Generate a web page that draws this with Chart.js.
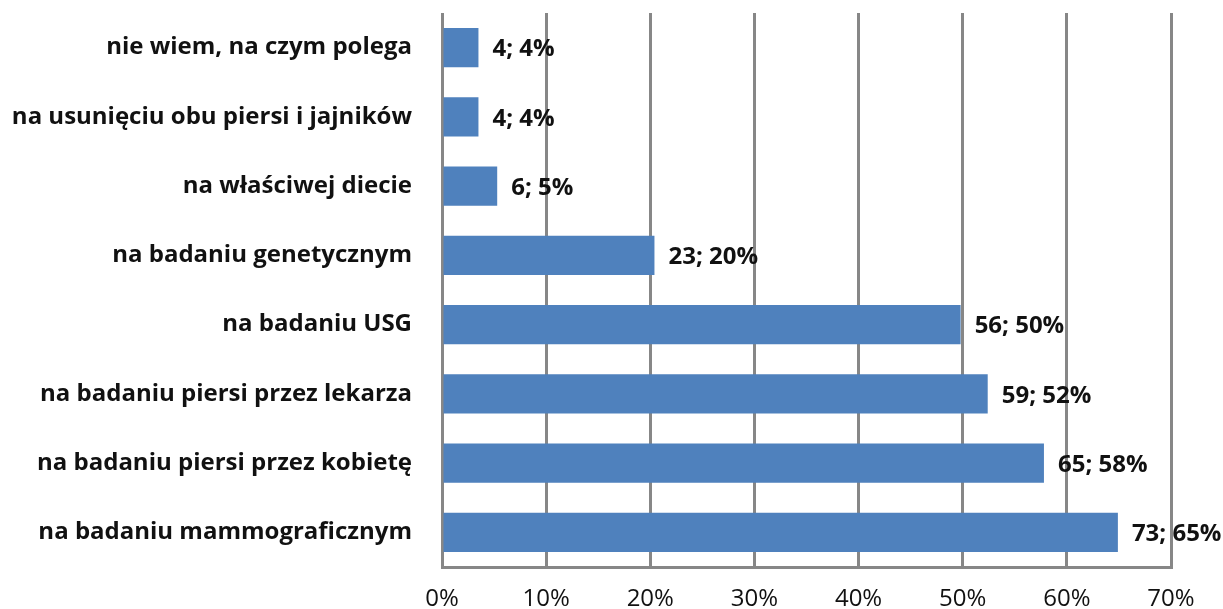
<!DOCTYPE html>
<html><head><meta charset="utf-8">
<script src="https://cdn.jsdelivr.net/npm/chart.js@4"></script>
<style>html,body{margin:0;padding:0;background:#fff}#wrap{width:1223px;height:609px}</style>
</head><body><div id="wrap"><canvas id="c" width="1223" height="609"></canvas></div>
<script>
const categories = [
  'nie wiem, na czym polega',
  'na usunięciu obu piersi i jajników',
  'na właściwej diecie',
  'na badaniu genetycznym',
  'na badaniu USG',
  'na badaniu piersi przez lekarza',
  'na badaniu piersi przez kobietę',
  'na badaniu mammograficznym'
];
const percentValues = [3.5, 3.5, 5.3, 20.4, 49.8, 52.4, 57.8, 64.9];
const counts = [4, 4, 6, 23, 56, 59, 65, 73];
const percentLabels = ['4%', '4%', '5%', '20%', '50%', '52%', '58%', '65%'];
const xTickValues = [0, 10, 20, 30, 40, 50, 60, 70];

const FONT = "'Open Sans', sans-serif";
const GRID = '#878787';

const labelPlugin = {
  id: 'barLabels',
  afterDatasetsDraw(chart) {
    const ctx = chart.ctx;
    const meta = chart.getDatasetMeta(0);
    ctx.save();
    ctx.font = "bold 24px " + FONT;
    ctx.fillStyle = '#111111';
    ctx.textAlign = 'left';
    ctx.textBaseline = 'middle';
    meta.data.forEach((bar, i) => {
      ctx.fillText(counts[i] + '; ' + percentLabels[i], bar.x + 14, bar.y + 2);
    });
    ctx.restore();
  }
};

new Chart(document.getElementById('c'), {
  type: 'bar',
  data: {
    labels: categories,
    datasets: [{
      data: percentValues,
      backgroundColor: '#4f81bd',
      borderWidth: 0,
      barPercentage: 0.565,
      categoryPercentage: 1.0
    }]
  },
  options: {
    indexAxis: 'y',
    responsive: false,
    animation: false,
    devicePixelRatio: 1,
    layout: { padding: { top: 13, right: 52, left: 0, bottom: 0 } },
    plugins: { legend: { display: false }, tooltip: { enabled: false } },
    scales: {
      x: {
        min: 0, max: 70,
        afterBuildTicks(scale) { scale.ticks = xTickValues.map(v => ({ value: v })); },
        afterFit(scale) { scale.height = 42; scale.paddingLeft = 0; scale.paddingRight = 0; },
        ticks: {
          padding: 18,
          color: '#111111',
          font: { family: FONT, size: 24 },
          callback: v => v + '%'
        },
        grid: { color: GRID, lineWidth: 3, drawTicks: false },
        border: { display: true, color: GRID, width: 3 }
      },
      y: {
        afterFit(scale) { scale.width = 442; scale.paddingTop = 0; scale.paddingBottom = 0; },
        ticks: {
          padding: 30,
          color: '#111111',
          font: { family: FONT, size: 24, weight: 'bold' }
        },
        grid: { display: false, drawTicks: false },
        border: { display: false }
      }
    }
  },
  plugins: [labelPlugin]
});
</script></body></html>
